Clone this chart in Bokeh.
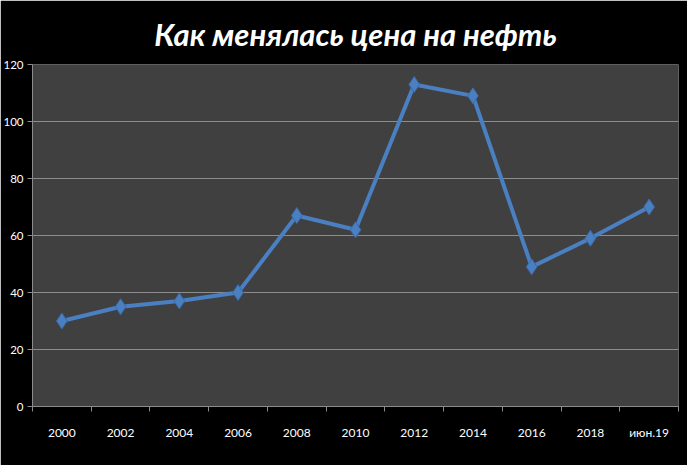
from bokeh.plotting import figure
from bokeh.models import Range1d, FixedTicker, Legend, LegendItem, ColumnDataSource
from bokeh.embed import file_html
from bokeh.resources import INLINE

years = ["2000", "2002", "2004", "2006", "2008", "2010", "2012", "2014", "2016", "2018", "июн.19"]
prices = [30, 35, 37, 40, 67, 62, 113, 109, 49, 59, 70]
y_ticks = [0, 20, 40, 60, 80, 100, 120]
title_text = "Как менялась цена на нефть"
series_name = "Как менялась цена на нефть, $ за баррель"

FONT = "Lato"
BLUE = "#4a7fc1"

xs = [i + 0.5 for i in range(len(years))]
src = ColumnDataSource(dict(x=xs, y=prices, label=years))

p = figure(frame_width=646, frame_height=342, x_range=Range1d(0, len(years)), y_range=Range1d(0, 120),
           output_backend="svg", toolbar_location=None,
           min_border_left=29, min_border_right=9, min_border_top=54, min_border_bottom=0)

p.background_fill_color = "#404040"
p.border_fill_color = "#000000"
p.outline_line_color = None

p.title.text = title_text
p.title.align = "center"
p.title.offset = -10
p.title.text_color = "#ffffff"
p.title.text_font = FONT
p.title.text_font_style = "bold italic"
p.title.text_font_size = "31px"
p.title.standoff = 24

# grid
p.xgrid.grid_line_color = None
p.ygrid.grid_line_color = "#8c8c8c"
p.ygrid.grid_line_width = 1

# y axis
p.yaxis.ticker = FixedTicker(ticks=y_ticks)
p.yaxis.axis_line_color = "#8c8c8c"
p.yaxis.major_tick_line_color = "#8c8c8c"
p.yaxis.major_tick_out = 5
p.yaxis.major_tick_in = 0
p.yaxis.minor_tick_line_color = None
p.yaxis.major_label_text_color = "#ffffff"
p.yaxis.major_label_text_font = FONT
p.yaxis.major_label_text_font_size = "11.5px"
p.yaxis.major_label_standoff = 4

# x axis
p.xaxis.ticker = FixedTicker(ticks=xs, minor_ticks=list(range(len(years) + 1)))
p.xaxis.major_label_overrides = {x: lab for x, lab in zip(xs, years)}
p.xaxis.axis_line_color = "#8c8c8c"
p.xaxis.major_tick_line_color = None
p.xaxis.minor_tick_line_color = "#8c8c8c"
p.xaxis.minor_tick_out = 5
p.xaxis.minor_tick_in = 0
p.xaxis.major_label_text_color = "#ffffff"
p.xaxis.major_label_text_font = FONT
p.xaxis.major_label_text_font_size = "12px"
p.xaxis.major_label_standoff = 12

ln = p.line("x", "y", source=src, line_color=BLUE, line_width=4)
mk = p.scatter("x", "y", source=src, marker="diamond", size=16,
               fill_color=BLUE, line_color="#3a6aa8", line_width=1)

legend = Legend(items=[LegendItem(label=series_name, renderers=[ln, mk])],
                location="center", orientation="horizontal",
                label_text_color="#ffffff", label_text_font=FONT, label_text_font_size="12px",
                background_fill_alpha=0, border_line_color=None,
                glyph_width=34, glyph_height=16, label_standoff=2, padding=2, margin=0)
p.add_layout(legend, "below")

open("out.html", "w").write(file_html(p, INLINE))
